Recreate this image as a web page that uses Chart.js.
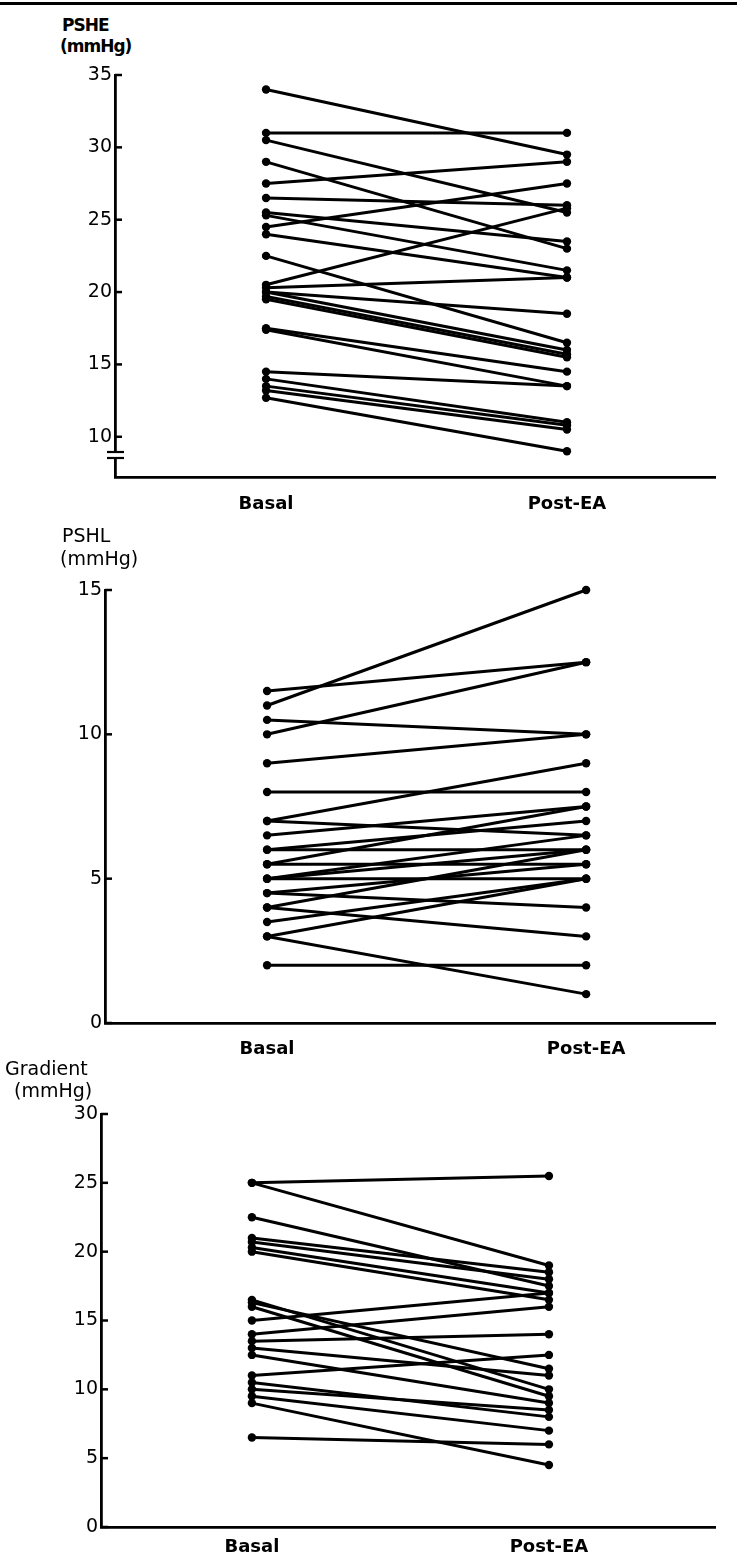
<!DOCTYPE html>
<html>
<head>
<meta charset="utf-8">
<script src="https://cdn.jsdelivr.net/npm/chart.js@4"></script>
<style>
  html, body { margin: 0; padding: 0; background: #fff; }
  body { width: 737px; height: 1568px; position: relative; overflow: hidden; font-family: 'DejaVu Sans', sans-serif; color: #000; }
  .rule { position: absolute; left: 0; top: 2px; width: 737px; height: 3px; background: #000; }
  .panel { position: absolute; left: 0; }
  .ttl { position: absolute; white-space: nowrap; z-index: 2; line-height: 22px; }
  .bold { font-weight: bold; letter-spacing: -1px; font-size: 17px; }
  .reg { font-size: 19px; }
</style>
</head>
<body>
<div class="rule"></div>

<div class="ttl bold" style="left:62px; top:14px;">PSHE</div>
<div class="ttl bold" style="left:60px; top:35px;">(mmHg)</div>
<div class="ttl reg" style="left:62px; top:524px;">PSHL</div>
<div class="ttl reg" style="left:60px; top:547px;">(mmHg)</div>
<div class="ttl reg" style="left:5px; top:1057px;">Gradient</div>
<div class="ttl reg" style="left:14px; top:1079px;">(mmHg)</div>

<div class="panel" style="top:60px;"><canvas id="pshe" width="737" height="477"></canvas></div>
<div class="panel" style="top:575px;"><canvas id="pshl" width="737" height="498"></canvas></div>
<div class="panel" style="top:1099px;"><canvas id="grad" width="737" height="469"></canvas></div>

<script>
// groupes (axe x)
const groupLabels = ['Basal', 'Post-EA'];

// PSHE (mmHg), un patient par index
const psheBasal = [34, 31, 30.5, 29, 27.5, 26.5, 25.5, 25.3, 24.5, 24, 22.5, 20.5, 20.3, 20, 20, 19.7, 19.5, 17.5, 17.4, 14.5, 14, 13.5, 13.2, 12.7];
const pshePost  = [29.5, 31, 25.5, 23, 29, 26, 23.5, 21.5, 27.5, 21, 16.5, 25.8, 21, 18.5, 16, 15.7, 15.5, 14.5, 13.5, 13.5, 11, 10.8, 10.5, 9];
const psheTicks = [10, 15, 20, 25, 30, 35];

// PSHL (mmHg)
const pshlBasal = [11.5, 11, 10.5, 10, 9, 8, 7, 7, 6.5, 6, 6, 5.5, 5.5, 5, 5, 5, 4.5, 4.5, 4, 4, 3.5, 3, 3, 2];
const pshlPost  = [12.5, 15, 10, 12.5, 10, 8, 9, 6.5, 7.5, 7, 6, 7.5, 5.5, 6.5, 6, 5, 5.5, 4, 6, 3, 5, 5, 1, 2];
const pshlTicks = [0, 5, 10, 15];

// Gradient (mmHg)
const gradBasal = [25, 25, 22.5, 21, 20.7, 20.3, 20, 16.5, 16.3, 16, 15, 14, 13.5, 13, 12.5, 11, 10.5, 10, 9.5, 9, 6.5];
const gradPost  = [25.5, 19, 17.5, 18.5, 18, 17, 16.5, 10, 11.5, 9.5, 17, 16, 14, 11, 9, 12.5, 8, 8.5, 7, 4.5, 6];
const gradTicks = [0, 5, 10, 15, 20, 25, 30];

// petits traits de graduation vers l'intérieur + coupure d'axe éventuelle
const innerTicks = {
  id: 'innerTicks',
  afterDraw(chart, args, opts) {
    const { ctx, chartArea } = chart;
    const y = chart.scales.y;
    ctx.save();
    ctx.strokeStyle = '#000';
    ctx.lineWidth = 2.5;
    y.ticks.forEach(t => {
      const py = y.getPixelForValue(t.value);
      ctx.beginPath();
      ctx.moveTo(chartArea.left, py);
      ctx.lineTo(chartArea.left + 7, py);
      ctx.stroke();
    });
    if (opts.breakAt !== undefined) {
      const py = y.getPixelForValue(opts.breakAt);
      const x0 = chartArea.left;
      ctx.fillStyle = '#fff';
      ctx.fillRect(x0 - 3, py - 3, 6, 6);
      ctx.lineWidth = 2.2;
      [py - 3, py + 3].forEach(yy => {
        ctx.beginPath();
        ctx.moveTo(x0 - 8, yy);
        ctx.lineTo(x0 + 9, yy);
        ctx.stroke();
      });
    }
    ctx.restore();
  }
};

function makePanel(id, basal, post, yTicks, cfg) {
  const datasets = basal.map((b, i) => ({
    data: [{ x: 0, y: b }, { x: 1, y: post[i] }],
    clip: false
  }));

  return new Chart(document.getElementById(id), {
    type: 'line',
    data: { datasets: datasets },
    plugins: [innerTicks],
    options: {
      responsive: false,
      animation: false,
      events: [],
      layout: { padding: { top: 15, right: 22, left: 0, bottom: 0 } },
      elements: {
        line: { borderColor: '#000', borderWidth: 3, tension: 0, fill: false },
        point: { radius: 4.2, backgroundColor: '#000', borderWidth: 0 }
      },
      plugins: {
        legend: { display: false },
        tooltip: { enabled: false },
        innerTicks: { breakAt: cfg.breakAt }
      },
      scales: {
        x: {
          type: 'linear',
          min: cfg.xMin,
          max: cfg.xMax,
          grid: { display: false, drawTicks: false },
          border: { display: true, color: '#000', width: 2.8 },
          afterBuildTicks: s => { s.ticks = [{ value: 0 }, { value: 1 }]; },
          afterFit: s => { s.height = cfg.xHeight; },
          ticks: {
            color: '#000',
            padding: cfg.xPad,
            maxRotation: 0,
            font: { family: 'DejaVu Sans', size: 18, weight: 'bold' },
            callback: v => groupLabels[v] ?? ''
          }
        },
        y: {
          type: 'linear',
          min: cfg.yMin,
          max: cfg.yMax,
          grid: { display: false, drawTicks: false },
          border: { display: true, color: '#000', width: 2.8 },
          afterBuildTicks: s => { s.ticks = yTicks.map(v => ({ value: v })); },
          afterFit: s => { s.width = cfg.left; },
          ticks: {
            color: '#000',
            padding: 3,
            font: { family: 'DejaVu Sans', size: 19 }
          }
        }
      }
    }
  });
}

makePanel('pshe', psheBasal, pshePost, psheTicks, {
  left: 115, xMin: -0.502, xMax: 1.492, yMin: 7.22, yMax: 35,
  xHeight: 60, xPad: 17, breakAt: 8.74
});
makePanel('pshl', pshlBasal, pshlPost, pshlTicks, {
  left: 105, xMin: -0.508, xMax: 1.404, yMin: 0, yMax: 15,
  xHeight: 50, xPad: 16
});
makePanel('grad', gradBasal, gradPost, gradTicks, {
  left: 101, xMin: -0.508, xMax: 1.559, yMin: 0, yMax: 30,
  xHeight: 41, xPad: 10
});
</script>
</body>
</html>
